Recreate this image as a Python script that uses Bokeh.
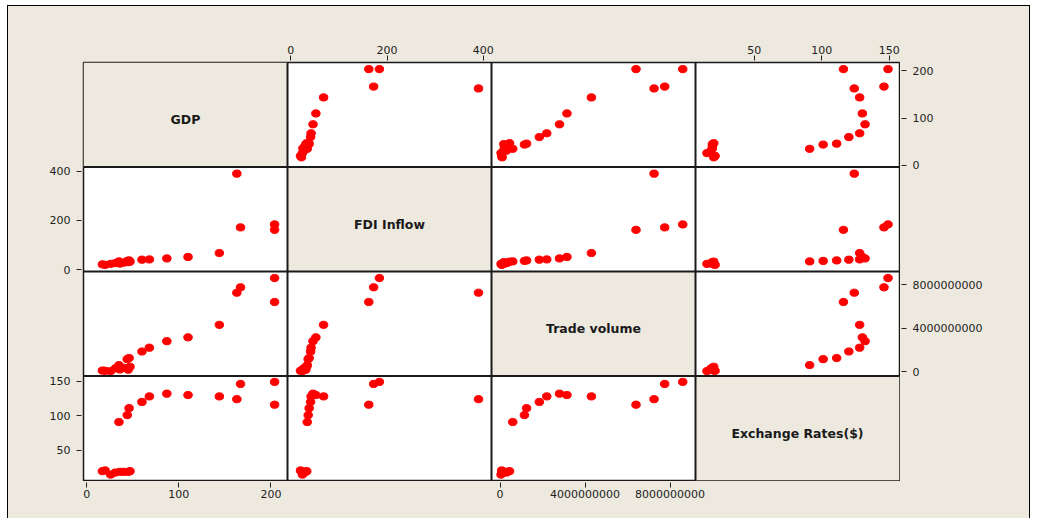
from bokeh.plotting import figure
from bokeh.layouts import row, column
from bokeh.models import (Range1d, LinearAxis, FixedTicker, BasicTickFormatter,
                          Label, Span, BoxAnnotation)
from bokeh.embed import file_html
from bokeh.resources import INLINE

# ---------------- data ----------------
variables = ["GDP", "FDI Inflow", "Trade volume", "Exchange Rates($)"]

gdp = [17, 20, 26, 31, 36, 40, 45, 47,
       35, 44, 46, 60, 68, 87, 110, 144, 163, 167, 204, 204]
fdi = [22, 20, 24, 27, 25, 29, 31, 33,
       34, 36, 38, 41, 42, 46, 52, 68, 390, 172, 162, 184]
trade = [0.10e9, 0.08e9, 0.05e9, 0.30e9, 0.20e9, 0.35e9, 0.18e9, 0.45e9,
         0.60e9, 1.15e9, 1.25e9, 1.85e9, 2.20e9, 2.80e9, 3.15e9, 4.30e9,
         7.25e9, 7.75e9, 6.40e9, 8.60e9]
exch = [20, 21, 15, 18, 19, 19, 19, 20,
        91, 101, 111, 120, 128, 132, 130, 128, 124, 146, 116, 149]

gdp_ticks = [0, 100, 200]
fdi_ticks = [0, 200, 400]
trade_ticks = [0, 4000000000, 8000000000]
exch_ticks = [50, 100, 150]

# ---------------- scales / layout ----------------
series = [gdp, fdi, trade, exch]
ticks = [gdp_ticks, fdi_ticks, trade_ticks, exch_ticks]
lims = [(-3.5, 218), (-7, 417), (-0.4e9, 9.2e9), (6.5, 157.5)]

BEIGE = "#EDE9DF"
LINE = "#1a1a1a"
TOTAL_W = 1021
TOP_H, PANEL_H, BOT_H = 55, 420, 37
LEFT_W, PANEL_W = 74, 818
RIGHT_W = TOTAL_W - LEFT_W - PANEL_W

# panel bands in layout pixels (x from left, y from top)
fx0, fx1 = LEFT_W + 1, LEFT_W + PANEL_W - 1
fy0, fy1 = TOP_H + 1, TOP_H + PANEL_H - 1
cw = (fx1 - fx0) / 4.0
rh = (fy1 - fy0) / 4.0
xband = [(fx0 + k * cw, fx0 + (k + 1) * cw) for k in range(4)]
yband = [(fy0 + k * rh, fy0 + (k + 1) * rh) for k in range(4)]


def xr(k, f0, f1):
    a, b = lims[k]
    b0, b1 = xband[k]
    u = (b - a) / (b1 - b0)
    return Range1d(a - (b0 - f0) * u, b + (f1 - b1) * u)


def yr(k, f0, f1):
    a, b = lims[k]
    b0, b1 = yband[k]
    u = (b - a) / (b1 - b0)
    return Range1d(a - (f1 - b1) * u, b + (b0 - f0) * u)


def make_axis(k, side):
    return LinearAxis(
        ticker=FixedTicker(ticks=ticks[k]),
        formatter=BasicTickFormatter(use_scientific=False),
        axis_line_color=None,
        major_tick_line_color="#222222",
        major_tick_out=5, major_tick_in=0,
        minor_tick_line_color=None,
        major_label_text_font="DejaVu Sans",
        major_label_text_font_size="11px",
        major_label_text_color="#222222",
        major_label_standoff=2 if side in ("above", "below") else 6,
    )


def strip(w, h, bl, br, bt, bb, xrange, yrange):
    s = figure(width=w, height=h, x_range=xrange, y_range=yrange,
               x_axis_location=None, y_axis_location=None,
               output_backend="svg", toolbar_location=None, tools="",
               min_border_left=bl, min_border_right=br,
               min_border_top=bt, min_border_bottom=bb,
               border_fill_color=BEIGE, background_fill_color=BEIGE,
               outline_line_color=None)
    s.grid.visible = False
    return s


# ---------------- main matrix (one figure, one scale pair per panel) ----------------
M = figure(width=PANEL_W, height=PANEL_H, x_range=Range1d(0, 1), y_range=Range1d(0, 1),
           x_axis_location=None, y_axis_location=None,
           output_backend="svg", toolbar_location=None, tools="",
           min_border_left=1, min_border_right=1, min_border_top=1, min_border_bottom=1,
           border_fill_color=BEIGE, background_fill_color="white",
           outline_line_color=LINE, outline_line_width=1.5)
M.grid.visible = False
M.extra_x_ranges = {f"x{k}": xr(k, fx0, fx1) for k in range(4)}
M.extra_y_ranges = {f"y{k}": yr(k, fy0, fy1) for k in range(4)}

for i in range(4):
    for j in range(4):
        if i == j:
            M.add_layout(BoxAnnotation(
                left=lims[j][0], right=lims[j][1], bottom=lims[i][0], top=lims[i][1],
                x_range_name=f"x{j}", y_range_name=f"y{i}",
                fill_color=BEIGE, fill_alpha=1.0, line_color=None, level="underlay"))
            M.add_layout(Label(
                x=(lims[j][0] + lims[j][1]) / 2, y=(lims[i][0] + lims[i][1]) / 2,
                x_range_name=f"x{j}", y_range_name=f"y{i}",
                text=variables[i], text_align="center", text_baseline="middle",
                text_font="DejaVu Sans", text_font_style="bold",
                text_font_size="12.5px", text_color=LINE, y_offset=-5))
        else:
            M.ellipse(x=series[j], y=series[i], width=8.5, height=7.2,
                      width_units="screen", height_units="screen",
                      x_range_name=f"x{j}", y_range_name=f"y{i}",
                      fill_color="#FF0000", line_color="#FF0000")

for k in range(3):
    M.add_layout(Span(location=lims[k][1], dimension="height", x_range_name=f"x{k}",
                      line_color=LINE, line_width=2))
    M.add_layout(Span(location=lims[k][0], dimension="width", y_range_name=f"y{k}",
                      line_color=LINE, line_width=2))

# ---------------- axis strips ----------------
T1_W = 592
T1 = strip(T1_W, TOP_H, 0, 0, TOP_H - 1, 0, xr(1, 0, T1_W), Range1d(0, 1))
T1.add_layout(make_axis(1, "above"), "above")
T2 = strip(TOTAL_W - T1_W, TOP_H, 0, 0, TOP_H - 1, 0, xr(3, T1_W, TOTAL_W), Range1d(0, 1))
T2.add_layout(make_axis(3, "above"), "above")

B1_W = 392
B1 = strip(B1_W, BOT_H, 0, 0, 0, BOT_H - 1, xr(0, 0, B1_W), Range1d(0, 1))
B1.add_layout(make_axis(0, "below"), "below")
B2 = strip(TOTAL_W - B1_W, BOT_H, 0, 0, 0, BOT_H - 1, xr(2, B1_W, TOTAL_W), Range1d(0, 1))
B2.add_layout(make_axis(2, "below"), "below")

L1_H = 259
L1 = strip(LEFT_W, L1_H, LEFT_W - 1, 0, 0, 0, Range1d(0, 1), yr(1, TOP_H, TOP_H + L1_H))
L1.add_layout(make_axis(1, "left"), "left")
L2 = strip(LEFT_W, PANEL_H - L1_H, LEFT_W - 1, 0, 0, 0, Range1d(0, 1),
           yr(3, TOP_H + L1_H, TOP_H + PANEL_H))
L2.add_layout(make_axis(3, "left"), "left")

R1_H = 164
R1 = strip(RIGHT_W, R1_H, 0, RIGHT_W - 1, 0, 0, Range1d(0, 1), yr(0, TOP_H, TOP_H + R1_H))
R1.add_layout(make_axis(0, "right"), "right")
R2 = strip(RIGHT_W, PANEL_H - R1_H, 0, RIGHT_W - 1, 0, 0, Range1d(0, 1),
           yr(2, TOP_H + R1_H, TOP_H + PANEL_H))
R2.add_layout(make_axis(2, "right"), "right")

root = column(
    row(T1, T2),
    row(column(L1, L2), M, column(R1, R2)),
    row(B1, B2),
)
root.styles = {"margin-left": "8px", "margin-top": "6px",
               "outline": "1px solid #000000", "background-color": BEIGE}

open("out.html", "w").write(file_html(root, INLINE))
